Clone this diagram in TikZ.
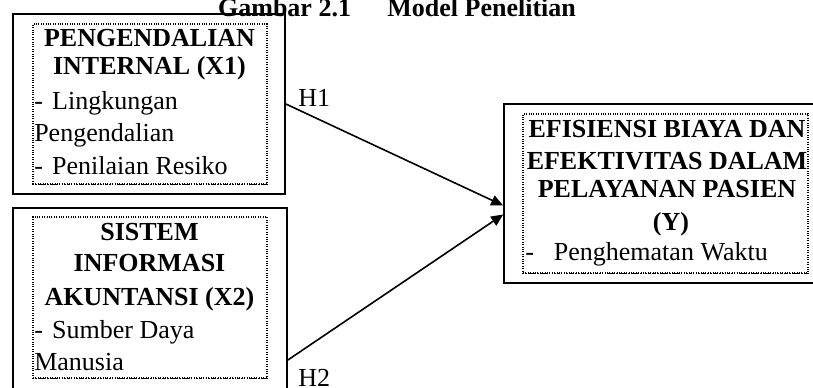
\documentclass[tikz,border=0pt]{standalone}
\usepackage{fontspec}
\setmainfont{Liberation Serif}
\usetikzlibrary{positioning, calc, fit, arrows.meta}

\begin{document}
\begin{tikzpicture}[x=0.75pt, y=-0.75pt,
    outerbox/.style={draw, line width=1.3pt, inner sep=0pt},
    innerbox/.style={draw, densely dotted, line width=0.8pt, inner sep=0pt},
    head/.style={anchor=base, inner sep=0pt, font=\fontsize{19.5pt}{24pt}\selectfont\bfseries},
    item/.style={anchor=base west, inner sep=0pt, font=\fontsize{19.5pt}{24pt}\selectfont},
    conn/.style={line width=1.2pt, -{Triangle[length=9pt, width=8pt]}}]
    \useasboundingbox (0,0) rectangle (813,388);
    \clip (0,0) rectangle (813,388);

    \node[head] (title) at (397,17) {Gambar 2.1\hspace{1.4em}Model Penelitian};

    % variabel X1
    \node[outerbox, fit={(13,14) (285,194)}] (x1) {};
    \node[innerbox, fit={(33,24) (267,184)}] (x1in) {};
    \draw[line width=1.2pt, densely dotted] (x1in.south west) -- (x1in.south east);
    \node[head] (x1a) at (149.5,47) {PENGENDALIAN};
    \node[head] (x1b) at (149.5,75) {INTERNAL (X1)};
    \node[item] (x1c) at (34,110) {-\hspace{7pt}Lingkungan};
    \node[item] (x1d) at (34,142) {Pengendalian};
    \node[item] (x1e) at (34,175) {-\hspace{7pt}Penilaian Resiko};

    % variabel X2
    \node[outerbox, fit={(13,208) (287,394)}] (x2) {};
    \node[innerbox, fit={(33,217) (267,378)}] (x2in) {};
    \draw[line width=1.2pt, densely dotted] (x2in.south west) -- (x2in.south east);
    \node[head] (x2a) at (149.5,240) {SISTEM};
    \node[head] (x2b) at (149.5,272) {INFORMASI};
    \node[head] (x2c) at (149.5,305) {AKUNTANSI (X2)};
    \node[item] (x2d) at (34,338) {-\hspace{7pt}Sumber Daya};
    \node[item] (x2e) at (34,370) {Manusia};

    % variabel Y
    \node[outerbox, fit={(504,104) (830,283)}] (y) {};
    \node[innerbox, fit={(523,114) (808,273)}] (yin) {};
    \draw[line width=1.2pt, densely dotted] (yin.south west) -- (yin.south east);
    \node[head] (ya) at (667,138) {EFISIENSI BIAYA DAN};
    \node[head] (yb) at (667,170) {EFEKTIVITAS DALAM};
    \node[head] (yc) at (667,198) {PELAYANAN PASIEN};
    \node[head] (yd) at (671,230) {(Y)};
    \node[item] (ye) at (525,260) {-\hspace{15pt}Penghematan Waktu};

    % hipotesis
    \draw[conn] (x1.east) -- ($(y.west)+(0,12)$);
    \draw[conn] ($(x2.east)+(0,59)$) -- ($(y.west)+(0,21)$);
    \node[item] (h1) at (298,107) {H1};
    \node[item] (h2) at (298,386) {H2};
\end{tikzpicture}
\end{document}
